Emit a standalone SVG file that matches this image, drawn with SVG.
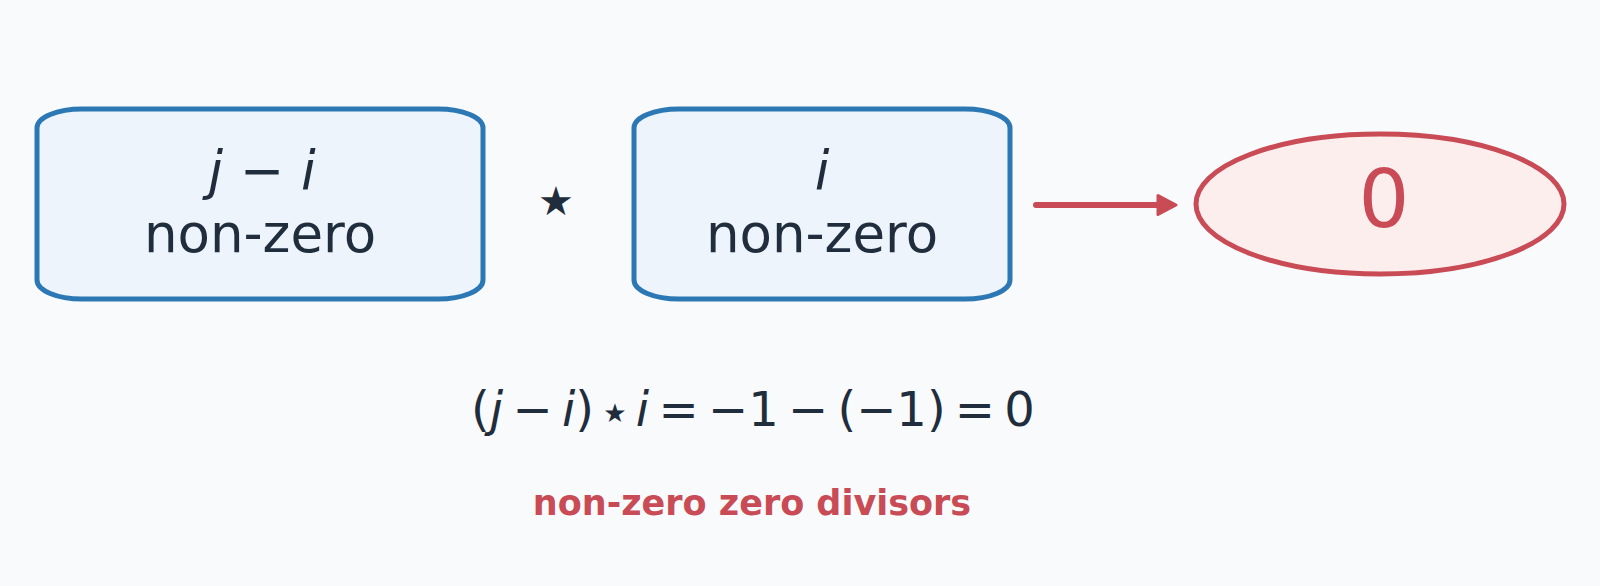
<svg xmlns="http://www.w3.org/2000/svg" width="1600" height="586" viewBox="0 0 1600 586">
  <style>
    .box { fill: #edf4fb; stroke: #2c78b4; stroke-width: 5; }
    .t { font-family: "DejaVu Sans", "Liberation Sans", sans-serif; fill: #1f2d3d; text-anchor: middle; }
    .it { font-style: italic; }
    .big { font-size: 53px; }
    .red { fill: #c84b55; }
  </style>
  <defs>
    <marker id="ah" viewBox="0 0 24 24" refX="9" refY="12" markerWidth="24" markerHeight="24" markerUnits="userSpaceOnUse" orient="auto">
      <path d="M3,2.5 L21,12 L3,21.5 Z" fill="#c84b55" stroke="#c84b55" stroke-width="3" stroke-linejoin="round"/>
    </marker>
  </defs>
  <rect width="1600" height="586" fill="#f8fafc"/>
  <g id="connectors">
    <line x1="1036" y1="205" x2="1164" y2="205" stroke="#c84b55" stroke-width="6" stroke-linecap="round" marker-end="url(#ah)"/>
  </g>
  <g id="node-ji">
    <rect class="box" x="37" y="109" width="446" height="190" rx="45" ry="19"/>
    <text class="t big" x="262" y="189"><tspan class="it">j</tspan> − <tspan class="it">i</tspan></text>
    <text class="t big" x="260" y="252">non-zero</text>
  </g>
  <g id="op-star">
    <text class="t" x="556" y="215" font-size="40" fill="#1c3350">★</text>
  </g>
  <g id="node-i">
    <rect class="box" x="634" y="109" width="376" height="190" rx="45" ry="19"/>
    <text class="t big it" x="822" y="189">i</text>
    <text class="t big" x="822" y="252">non-zero</text>
  </g>
  <g id="node-zero">
    <ellipse cx="1380" cy="204" rx="184" ry="70" fill="#fdeeee" stroke="#c84b55" stroke-width="5"/>
    <text class="t red" x="1384" y="227" font-size="80">0</text>
  </g>
  <g id="equation">
    <text class="t" x="753" y="426" font-size="48" word-spacing="-6">(<tspan class="it">j</tspan> − <tspan class="it">i</tspan>) <tspan font-size="26" dy="-4">★</tspan><tspan dy="4"> </tspan><tspan class="it">i</tspan> = −1 − (−1) = 0</text>
  </g>
  <g id="caption">
    <text class="t red" x="752" y="515" font-size="35" font-weight="bold">non-zero zero divisors</text>
  </g>
</svg>
